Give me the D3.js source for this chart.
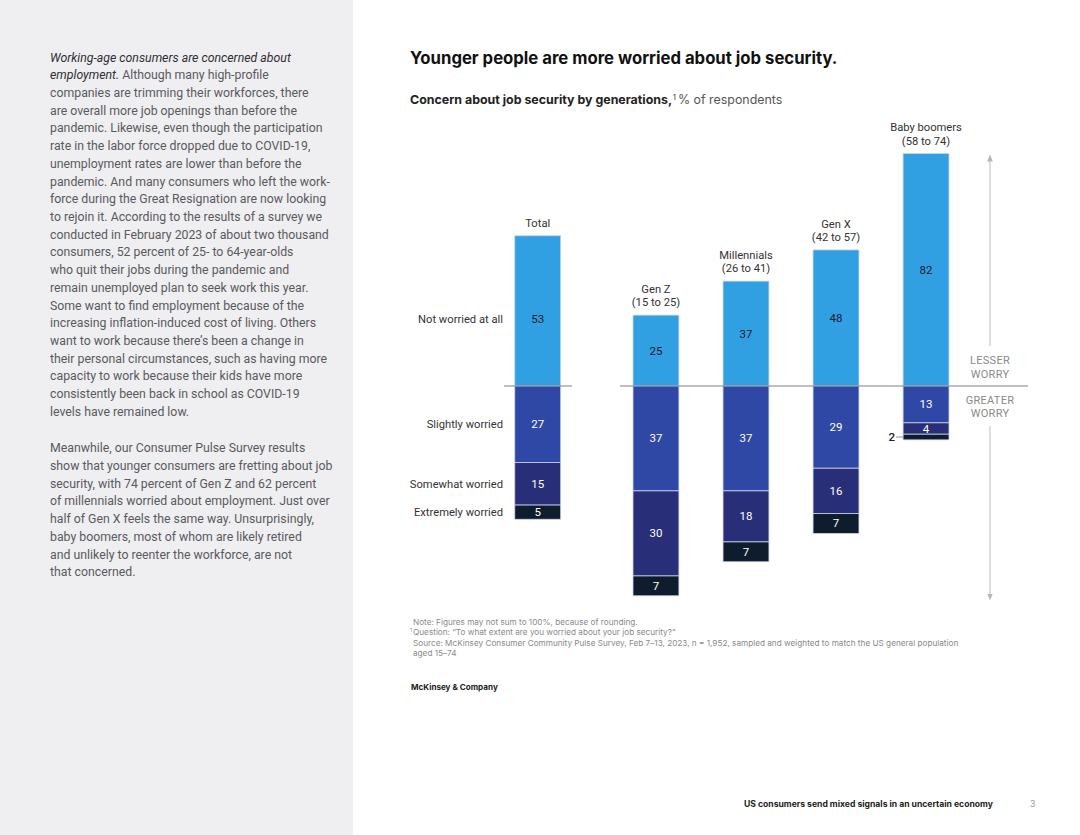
<!DOCTYPE html>
<html>
<head>
<meta charset="utf-8">
<script src="https://cdn.jsdelivr.net/npm/d3@7/dist/d3.min.js"></script>
<style>
  html, body { margin: 0; padding: 0; background: #fff; }
  svg { display: block; }
  text { font-family: Inter, "Liberation Sans", Arial, sans-serif; }
  text.rb, text.rb tspan { font-family: Roboto, "Liberation Sans", Arial, sans-serif; }
</style>
</head>
<body>
<svg id="chart" width="1080" height="835"></svg>
<script>
// ---------------- DATA ----------------
const categories = ["Total", "Gen Z", "Millennials", "Gen X", "Baby boomers"];
const ageRanges = ["", "(15 to 25)", "(26 to 41)", "(42 to 57)", "(58 to 74)"];
const seriesNames = ["Not worried at all", "Slightly worried", "Somewhat worried", "Extremely worried"];
const notWorried = [53, 25, 37, 48, 82];
const slightlyWorried = [27, 37, 37, 29, 13];
const somewhatWorried = [15, 30, 18, 16, 4];
const extremelyWorried = [5, 7, 7, 7, 2];

const paragraph1 = [
  [["Working-age consumers are concerned about", true]],
  [["employment.", true], [" Although many high-profile", false]],
  [["companies are trimming their workforces, there", false]],
  [["are overall more job openings than before the", false]],
  [["pandemic. Likewise, even though the participation", false]],
  [["rate in the labor force dropped due to COVID-19,", false]],
  [["unemployment rates are lower than before the", false]],
  [["pandemic. And many consumers who left the work-", false]],
  [["force during the Great Resignation are now looking", false]],
  [["to rejoin it. According to the results of a survey we", false]],
  [["conducted in February 2023 of about two thousand", false]],
  [["consumers, 52 percent of 25- to 64-year-olds", false]],
  [["who quit their jobs during the pandemic and", false]],
  [["remain unemployed plan to seek work this year.", false]],
  [["Some want to find employment because of the", false]],
  [["increasing inflation-induced cost of living. Others", false]],
  [["want to work because there\u2019s been a change in", false]],
  [["their personal circumstances, such as having more", false]],
  [["capacity to work because their kids have more", false]],
  [["consistently been back in school as COVID-19", false]],
  [["levels have remained low.", false]]
];
const paragraph2 = [
  "Meanwhile, our Consumer Pulse Survey results",
  "show that younger consumers are fretting about job",
  "security, with 74 percent of Gen Z and 62 percent",
  "of millennials worried about employment. Just over",
  "half of Gen X feels the same way. Unsurprisingly,",
  "baby boomers, most of whom are likely retired",
  "and unlikely to reenter the workforce, are not",
  "that concerned."
];
const noteLines = [
  ["", "Note: Figures may not sum to 100%, because of rounding."],
  ["1", "Question: \u201CTo what extent are you worried about your job security?\u201D"],
  ["", "Source: McKinsey Consumer Community Pulse Survey, Feb 7\u201313, 2023, n = 1,952, sampled and weighted to match the US general population"],
  ["", "aged 15\u201374"]
];

// ---------------- SETUP ----------------
const svg = d3.select("#chart");
const W = 1080, H = 835;
const colors = ["#31a0e2", "#2f48a6", "#282e78", "#0f1c2e"];
const labelColors = ["#1a1a2a", "#ffffff", "#ffffff", "#ffffff"];

// left panel
svg.append("rect").attr("x", 0).attr("y", 0).attr("width", 353).attr("height", H).attr("fill", "#efeef1");

const bodySize = 12.3, lineH = 17.72;
const p1 = svg.append("text").attr("class", "rb").attr("x", 50).attr("y", 61.5).attr("font-size", bodySize).attr("fill", "#5a5a5e");
paragraph1.forEach((line, i) => {
  line.forEach((seg, j) => {
    const t = p1.append("tspan").text(seg[0])
      .attr("font-style", seg[1] ? "italic" : "normal")
      .attr("fill", seg[1] ? "#2e2e33" : "#5a5a5e");
    if (j === 0) t.attr("x", 50).attr("dy", i === 0 ? 0 : lineH);
  });
});
const p2 = svg.append("text").attr("class", "rb").attr("x", 50).attr("y", 61.5 + 22.05 * lineH).attr("font-size", bodySize).attr("fill", "#5a5a5e");
paragraph2.forEach((line, i) => {
  p2.append("tspan").attr("x", 50).attr("dy", i === 0 ? 0 : lineH).text(line);
});

// titles
svg.append("text").attr("x", 410).attr("y", 64).attr("font-size", 16.7).attr("font-weight", 700).attr("fill", "#111")
  .text("Younger people are more worried about job security.");
const sub = svg.append("text").attr("x", 410).attr("y", 104).attr("font-size", 12.4).attr("fill", "#222");
sub.append("tspan").attr("font-weight", 700).text("Concern about job security by generations,");
sub.append("tspan").attr("font-size", 7).attr("dy", -4).attr("dx", 1).text("1");
sub.append("tspan").attr("dy", 4).attr("dx", 2).attr("fill", "#555").text("% of respondents");

// ---------------- SCALES ----------------
const gens = categories.slice(1);
const xGen = d3.scaleBand().domain(gens).range([610.5, 971.5]).paddingInner(0.49).paddingOuter(0.25);
const xTot = d3.scaleBand().domain([categories[0]]).range([492, 584]).paddingInner(0.49).paddingOuter(0.25);
const xPos = c => c === categories[0] ? xTot(c) : xGen(c);
const bw = xGen.bandwidth();
const y = d3.scaleLinear().domain([-80, 85]).range([386 + 80 * 2.835, 386 - 85 * 2.835]);
const totalLabelShift = 8; // the Total "not worried" label sits level with its row label

// build stacked segments
const rows = categories.map((c, i) => ({
  cat: c, age: ageRanges[i],
  vals: [notWorried[i], slightlyWorried[i], somewhatWorried[i], extremelyWorried[i]]
}));
const segs = [];
rows.forEach(r => {
  segs.push({ cat: r.cat, k: 0, v: r.vals[0], y0: 0, y1: r.vals[0] });
  let acc = 0;
  for (let k = 1; k < 4; k++) {
    segs.push({ cat: r.cat, k, v: r.vals[k], y0: -acc, y1: -(acc + r.vals[k]) });
    acc += r.vals[k];
  }
});
const midY = d => (y(d.y0) + y(d.y1)) / 2 + (d.cat === categories[0] && d.k === 0 ? totalLabelShift : 0);

const g = svg.append("g");
g.selectAll("rect.seg").data(segs).join("rect")
  .attr("class", "seg")
  .attr("x", d => xPos(d.cat))
  .attr("width", bw)
  .attr("y", d => Math.min(y(d.y0), y(d.y1)))
  .attr("height", d => Math.abs(y(d.y0) - y(d.y1)))
  .attr("fill", d => colors[d.k])
  .attr("stroke", "#c9d3e6")
  .attr("stroke-width", 0.8);

// value labels
g.selectAll("text.val").data(segs.filter(d => d.v >= 3)).join("text")
  .attr("class", "val rb")
  .attr("x", d => xPos(d.cat) + bw / 2)
  .attr("y", d => midY(d) + 4)
  .attr("text-anchor", "middle")
  .attr("font-size", 11.5)
  .attr("fill", d => labelColors[d.k])
  .text(d => d.v);

// small values outside with leader
const small = segs.filter(d => d.v < 3);
g.selectAll("line.lead").data(small).join("line")
  .attr("x1", d => xPos(d.cat) - 7).attr("x2", d => xPos(d.cat))
  .attr("y1", d => midY(d)).attr("y2", d => midY(d))
  .attr("stroke", "#777").attr("stroke-width", 0.8);
g.selectAll("text.small").data(small).join("text")
  .attr("class", "rb")
  .attr("x", d => xPos(d.cat) - 8)
  .attr("y", d => midY(d) + 4)
  .attr("text-anchor", "end").attr("font-size", 11.5).attr("font-weight", 500).attr("fill", "#222")
  .text(d => d.v);

// category labels
rows.forEach(r => {
  const top = y(r.vals[0]);
  const cx = xPos(r.cat) + bw / 2;
  const lines = r.age ? [r.cat, r.age] : [r.cat];
  lines.forEach((l, j) => {
    g.append("text").attr("class", "rb").attr("x", cx).attr("y", top - 9 - (lines.length - 1 - j) * 13.3)
      .attr("text-anchor", "middle").attr("font-size", 11.2).attr("fill", "#333").text(l);
  });
});

// series labels left of total
const totalRow = rows[0];
let acc = 0;
seriesNames.forEach((s, k) => {
  let cy;
  if (k === 0) cy = y(totalRow.vals[0] / 2) + totalLabelShift;
  else { cy = y(-(acc + totalRow.vals[k] / 2)); acc += totalRow.vals[k]; }
  g.append("text").attr("class", "rb").attr("x", 503).attr("y", cy + 4).attr("text-anchor", "end")
    .attr("font-size", 11.2).attr("fill", "#333").text(s);
});

// zero line
g.append("line").attr("x1", 504).attr("x2", 572).attr("y1", y(0)).attr("y2", y(0)).attr("stroke", "#808080").attr("stroke-width", 1);
g.append("line").attr("x1", 620).attr("x2", 1028).attr("y1", y(0)).attr("y2", y(0)).attr("stroke", "#808080").attr("stroke-width", 1);

// worry arrow
const ax = 990;
const defs = svg.append("defs");
defs.append("marker").attr("id", "ah").attr("viewBox", "0 0 10 10").attr("refX", 5).attr("refY", 5)
  .attr("markerWidth", 7).attr("markerHeight", 7).attr("orient", "auto-start-reverse")
  .append("path").attr("d", "M0,1 L10,5 L0,9 Z").attr("fill", "#b5b5b5");
g.append("line").attr("x1", ax).attr("x2", ax).attr("y1", 346).attr("y2", 158)
  .attr("stroke", "#bdbdbd").attr("stroke-width", 1).attr("marker-end", "url(#ah)");
g.append("line").attr("x1", ax).attr("x2", ax).attr("y1", 426).attr("y2", 597)
  .attr("stroke", "#bdbdbd").attr("stroke-width", 1).attr("marker-end", "url(#ah)");
[["LESSER", 364], ["WORRY", 378], ["GREATER", 404], ["WORRY", 417]].forEach(([t, yy]) => {
  g.append("text").attr("class", "rb").attr("x", ax).attr("y", yy).attr("text-anchor", "middle").attr("font-size", 11)
    .attr("fill", "#8a8a8a").attr("letter-spacing", 0.3).text(t);
});

// notes
noteLines.forEach(([sup, t], i) => {
  const yy = 625 + i * 10.4;
  if (sup) svg.append("text").attr("x", 410).attr("y", yy - 3).attr("font-size", 5).attr("fill", "#8a8a8a").text(sup);
  svg.append("text").attr("x", 413).attr("y", yy).attr("font-size", 8.2).attr("fill", "#8a8a8a").text(t);
});
svg.append("text").attr("x", 411).attr("y", 690).attr("font-size", 8.1).attr("font-weight", 700).attr("fill", "#222")
  .text("McKinsey & Company");

// footer
svg.append("text").attr("x", 744).attr("y", 807).attr("font-size", 8.6).attr("font-weight", 700).attr("fill", "#222")
  .text("US consumers send mixed signals in an uncertain economy");
svg.append("text").attr("x", 1030).attr("y", 807).attr("font-size", 8.6).attr("fill", "#999").text("3");
</script>
</body>
</html>
